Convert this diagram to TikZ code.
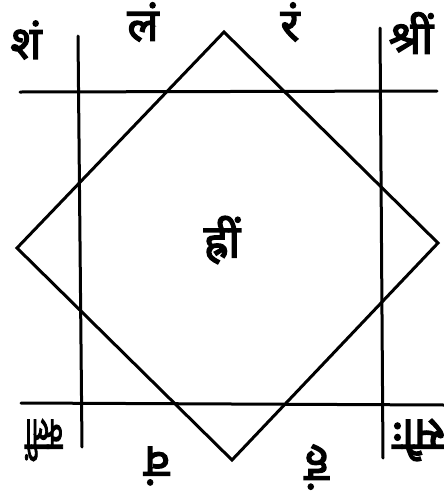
\documentclass[tikz,border=0pt]{standalone}
\usepackage{fontspec}
\newfontfamily\deva[Script=Devanagari,FakeBold=3]{Noto Sans}
\usetikzlibrary{positioning}

\begin{document}
\begin{tikzpicture}[
        x=1pt, y=-1pt,
        rule/.style={
            line width=3pt,
            line cap=round
        },
        bija/.style={
            inner sep=0pt,
            font=\deva\fontsize{46}{46}\selectfont
        },
        flipped/.style={
            bija,
            rotate=180
        }
    ]
    \useasboundingbox (0,0) rectangle (444,499);

    % the four rules
    \draw[rule] (20,92) -- (437,91);
    \draw[rule] (21,403) -- (444,405);
    \draw[rule] (78,36) -- (82,447);
    \draw[rule] (380,28) -- (383,458);

    % the diamond
    \coordinate (top) at (224,32);
    \coordinate (right) at (438,243);
    \coordinate (bottom) at (232,460);
    \coordinate (left) at (17,248);
    \draw[rule, line join=miter] (top) -- (right) -- (bottom) -- (left) -- cycle;

    \node[bija] (sham) at (26,40) {शं};
    \node[bija] (lam) at (143,22) {लं};
    \node[bija] (ram) at (290,22) {रं};
    \node[bija] (shrim) at (411,33) {श्रीं};
    \node[bija] (hrim) at (222,240) {ह्रीं};

    \node[flipped, xscale=0.55] (klim) at (44,440) {क्लीं};
    \node[flipped] (vam) at (157,466) {वं};
    \node[flipped] (ham) at (317,467) {हं};
    \node[flipped] (sauh) at (419,440) {सौः};
\end{tikzpicture}
\end{document}
